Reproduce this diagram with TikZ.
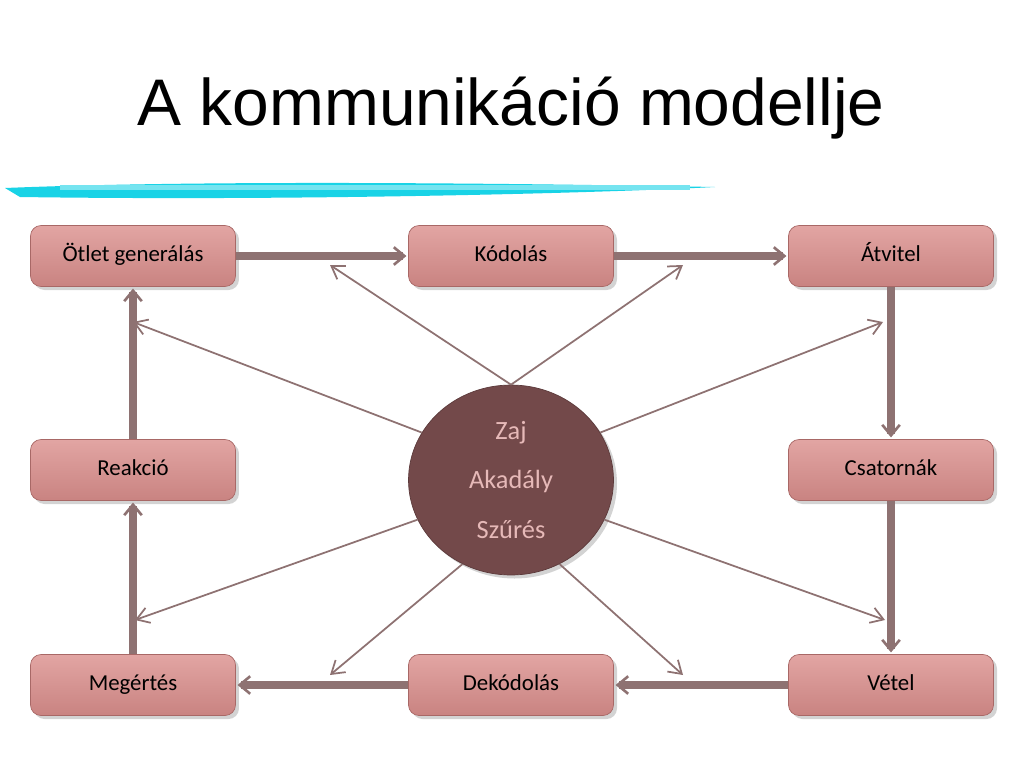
\documentclass[tikz,border=0pt]{standalone}
\usepackage{fontspec}
\setmainfont{Carlito}
\newfontfamily\titlefont{Liberation Sans}
\usetikzlibrary{shapes.geometric,arrows.meta,shadows}
\definecolor{boxtop}{HTML}{E2A5A3}
\definecolor{boxbot}{HTML}{C98381}
\definecolor{boxline}{HTML}{A86866}
\definecolor{flowcol}{HTML}{8E7272}
\definecolor{noisecol}{HTML}{73494A}
\definecolor{noisetext}{HTML}{E6B9B8}
\definecolor{brush}{HTML}{19D3E6}
\tikzset{
  stage/.style={draw=boxline, rounded corners=6pt, top color=boxtop, bottom color=boxbot,
    minimum width=4.1cm, minimum height=1.22cm, font=\fontsize{13}{15}\selectfont,
    text height=1.6ex, text depth=0.3ex,
    drop shadow={shadow xshift=2pt, shadow yshift=-2pt, opacity=0.35}},
  flow/.style={draw=flowcol, line width=4.5pt, -{Straight Barb[length=6pt,width=10pt,line width=1.5pt]}, shorten >=1pt},
  noise/.style={draw=flowcol, line width=1pt, -{Straight Barb[length=7pt,width=9pt]}}
}
\begin{document}
\begin{tikzpicture}[x=0.02cm,y=-0.02cm]
    \useasboundingbox (0,0) rectangle (1024,768);
    \node (title) at (511,108) {\titlefont\fontsize{37.5}{42}\selectfont A kommunikáció modellje};
    % brush stroke
    \fill[brush] (5,188) .. controls (200,180) and (500,183) .. (715,187)
      .. controls (600,193) and (300,201) .. (20,197) -- cycle;
    \fill[brush!60] (60,185) rectangle (690,190);

    \node[stage] (otlet) at (133,256) {Ötlet generálás};
    \node[stage] (kod) at (511,256) {Kódolás};
    \node[stage] (atvitel) at (891,256) {Átvitel};
    \node[stage] (reakcio) at (133,470) {Reakció};
    \node[stage] (csat) at (891,470) {Csatornák};
    \node[stage] (meg) at (133,685) {Megértés};
    \node[stage] (dekod) at (511,685) {Dekódolás};
    \node[stage] (vetel) at (891,685) {Vétel};

    \node[ellipse, draw=noisecol!80!black, fill=noisecol, minimum width=4.1cm, minimum height=3.8cm,
      text=noisetext, align=center, font=\fontsize{15}{28}\selectfont,
      drop shadow={shadow xshift=2pt, shadow yshift=-2pt, opacity=0.35}] (zaj) at (511,480)
      {Zaj\\Akadály\\Szűrés};

    \draw[flow] (otlet) -- (kod);
    \draw[flow] (kod) -- (atvitel);
    \draw[flow] (atvitel) -- (csat);
    \draw[flow] (csat) -- (vetel);
    \draw[flow] (vetel) -- (dekod);
    \draw[flow] (dekod) -- (meg);
    \draw[flow] (meg) -- (reakcio);
    \draw[flow] (reakcio) -- (otlet);

    \coordinate (n1) at (330,265);
    \coordinate (n2) at (683,265);
    \coordinate (n3) at (133,322);
    \coordinate (n4) at (883,322);
    \coordinate (n5) at (135,620);
    \coordinate (n6) at (885,620);
    \coordinate (n7) at (330,675);
    \coordinate (n8) at (683,675);
    \draw[noise] (zaj.north) -- (n1);
    \draw[noise] (zaj.north) -- (n2);
    \draw[noise] (zaj.152) -- (n3);
    \draw[noise] (zaj.28) -- (n4);
    \draw[noise] (zaj.203) -- (n5);
    \draw[noise] (zaj.-23) -- (n6);
    \draw[noise] (zaj.240) -- (n7);
    \draw[noise] (zaj.-60) -- (n8);
\end{tikzpicture}
\end{document}
